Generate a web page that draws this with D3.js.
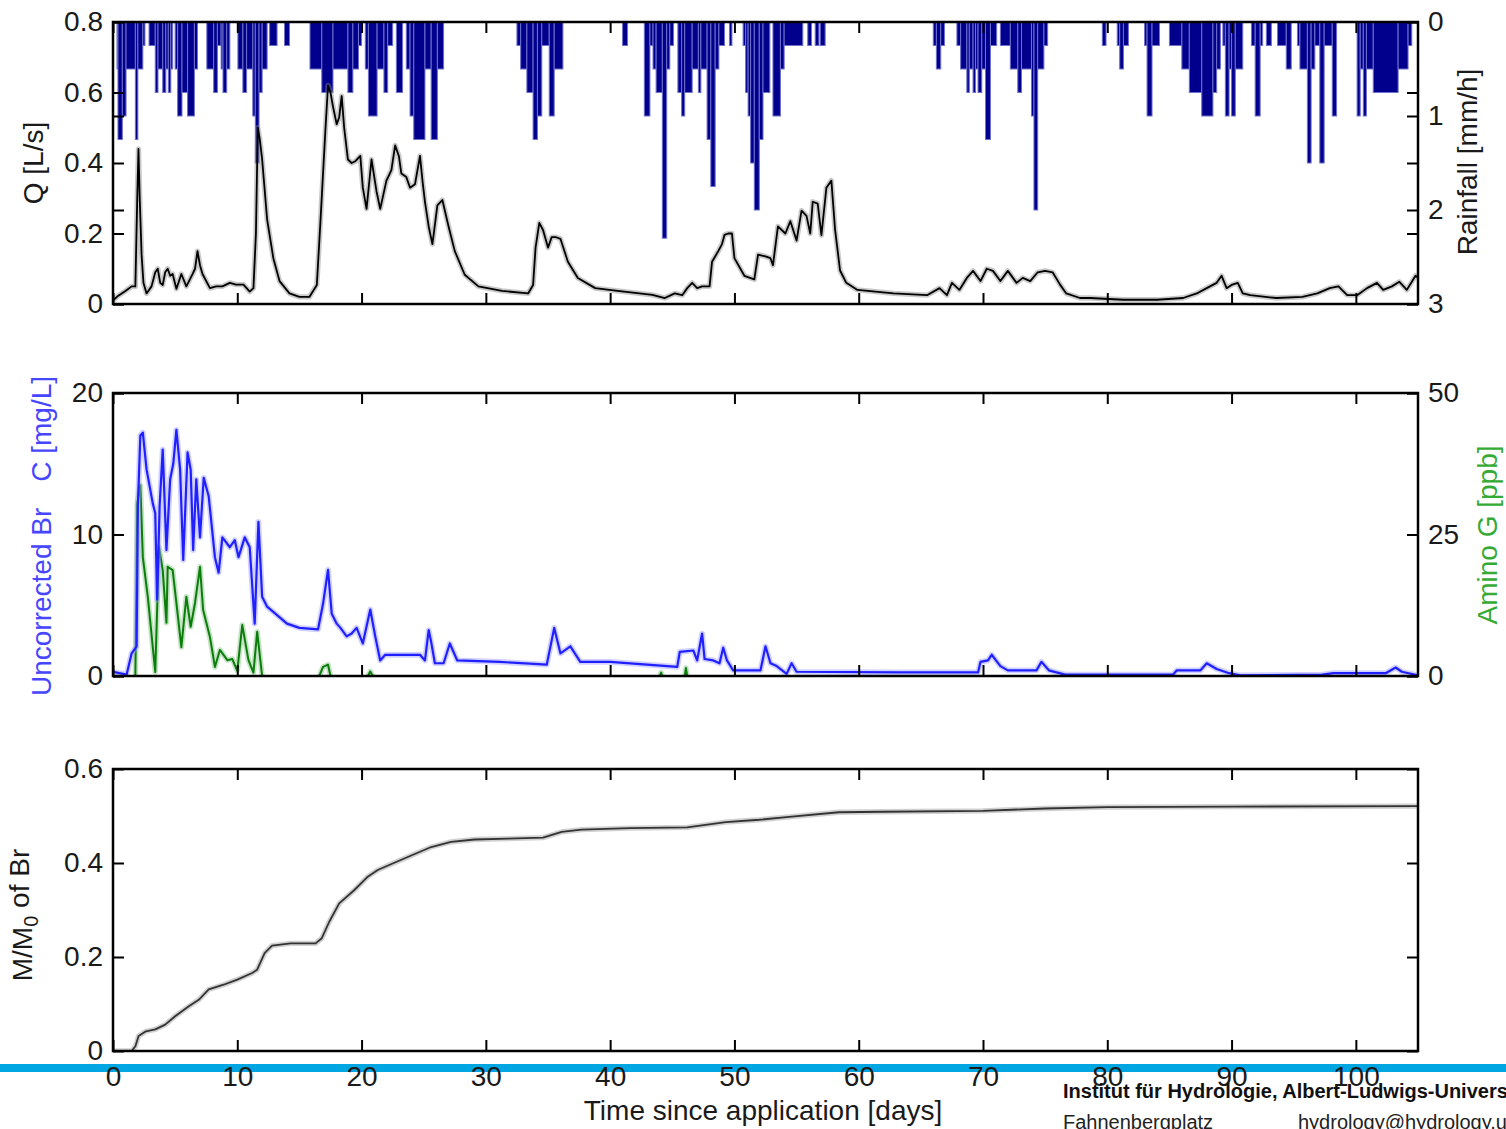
<!DOCTYPE html>
<html>
<head>
<meta charset="utf-8">
<script src="https://cdn.jsdelivr.net/npm/d3@7"></script>
<style>
  html, body { margin: 0; padding: 0; background: #fff; }
  svg { display: block; font-family: "Liberation Sans", Arial, Helvetica, sans-serif; }
</style>
</head>
<body>
<svg id="chart" width="1506" height="1129"></svg>
<script>
// ---------------- data ----------------
// time axis (days since tracer application)
const dayTicks = [0, 10, 20, 30, 40, 50, 60, 70, 80, 90, 100];
const dayDomain = [0, 105];

// tick labels of the value axes
const qTicks = [0, 0.2, 0.4, 0.6, 0.8];
const rainTicks = [0, 1, 2, 3];
const brTicks = [0, 10, 20];
const aminoTicks = [0, 25, 50];
const massTicks = [0, 0.2, 0.4, 0.6];

// hyetograph: [start day, end day, intensity mm/h]
const rainfall = [
  [0.32,0.40,0.5],[0.40,0.75,1.25],[0.75,1.05,1.0],[1.05,1.80,0.5],[1.80,2.00,1.25],[2.00,2.40,0.5],[2.40,2.57,0.25],
  [2.90,3.40,0.25],[3.40,3.62,0.75],[3.62,4.00,0.5],[4.00,4.25,0.75],[4.25,4.45,0.5],[4.45,4.65,0.75],[4.65,4.80,0.5],
  [5.00,5.20,0.5],[5.20,5.55,1.0],[5.55,6.00,0.75],[6.00,6.55,1.0],[6.55,6.80,0.5],
  [7.55,8.10,0.5],[8.10,8.40,0.75],[8.40,8.70,0.25],[8.70,8.85,0.5],[8.85,9.15,0.75],[9.15,9.40,0.5],
  [10.05,10.45,0.5],[10.45,10.75,0.75],[10.75,11.25,0.5],[11.25,11.45,1.0],[11.45,11.75,1.5],[11.75,12.0,0.75],[12.0,12.4,0.5],
  [12.6,13.2,0.25],[13.8,14.2,0.25],
  [15.85,16.8,0.5],[16.8,17.7,0.75],[17.7,18.9,0.5],[18.9,19.3,0.75],[19.3,19.75,0.5],[19.75,20.0,0.25],
  [20.3,20.55,0.5],[20.55,21.25,1.0],[21.25,21.8,0.5],[21.8,22.1,0.75],[22.1,22.5,0.25],
  [22.8,23.3,0.75],
  [23.6,23.9,0.5],[23.9,24.2,1.0],[24.2,25.1,1.25],[25.1,25.6,0.5],[25.6,26.1,1.25],[26.1,26.6,0.5],
  [32.5,32.8,0.25],[32.8,33.3,0.5],[33.3,33.8,0.75],[33.8,34.15,1.25],[34.15,34.5,1.0],[34.5,35.1,0.25],[35.1,35.5,1.0],[35.5,36.2,0.5],
  [41.0,41.4,0.25],
  [42.75,43.2,1.0],[43.2,43.45,0.25],[43.45,43.7,0.5],[43.7,44.2,0.75],[44.2,44.55,2.3],[44.55,44.8,0.5],[44.8,45.1,0.25],
  [45.45,45.75,0.75],[45.75,46.0,1.0],[46.0,46.6,0.75],[46.6,47.1,0.5],[47.1,47.3,0.75],[47.3,47.8,0.5],[47.8,48.1,1.25],[48.1,48.45,1.75],[48.45,48.75,0.5],[48.75,49.2,0.25],
  [49.6,49.8,0.25],
  [50.7,50.9,0.25],[50.9,51.1,0.75],[51.1,51.3,1.0],[51.3,51.6,1.5],[51.6,52.0,2.0],[52.0,52.3,1.25],[52.3,52.85,0.75],
  [53.1,53.7,1.0],[53.7,54.0,0.5],[54.0,55.5,0.25],
  [55.9,56.2,0.25],[56.5,56.8,0.25],[56.9,57.3,0.25],
  [66.0,66.25,0.25],[66.25,66.6,0.5],[66.6,66.9,0.25],
  [67.9,68.2,0.25],[68.2,68.7,0.5],[68.7,68.9,0.75],[68.9,69.2,0.5],[69.2,69.4,0.75],[69.4,69.6,0.5],[69.6,69.9,0.75],[69.9,70.2,0.5],[70.2,70.6,1.25],[70.6,71.1,0.25],
  [71.4,72.2,0.25],[72.2,72.8,0.5],[72.8,73.1,0.75],[73.1,73.9,0.5],[73.9,74.1,1.0],[74.1,74.4,2.0],[74.4,74.9,0.5],[74.9,75.2,0.25],
  [79.6,79.9,0.25],
  [80.8,81.0,0.25],[81.0,81.3,0.5],[81.3,81.7,0.25],
  [83.0,83.2,0.25],[83.2,83.6,1.0],[83.6,84.2,0.25],
  [85.0,86.0,0.25],[86.0,86.6,0.5],[86.6,87.6,0.75],[87.6,88.5,1.0],[88.5,88.8,0.75],[88.8,89.1,0.5],
  [89.3,89.5,0.25],[89.5,89.8,1.0],[89.8,90.0,0.5],[90.0,90.3,1.0],[90.3,90.9,0.5],
  [91.6,91.9,0.25],[91.9,92.3,1.0],[92.3,92.5,0.25],
  [92.8,93.2,0.25],
  [93.7,94.4,0.25],[94.4,94.8,0.5],
  [95.3,95.5,0.25],[95.5,96.1,0.5],[96.1,96.4,1.5],[96.4,96.7,0.5],[96.7,97.1,0.25],[97.1,97.45,1.5],[97.45,98.1,0.25],[98.1,98.45,1.0],
  [100.1,100.35,1.0],[100.35,100.6,0.5],[100.6,100.85,1.0],[100.85,101.4,0.5],[101.4,103.4,0.75],[103.4,104.2,0.5],[104.2,104.5,0.25]
];

// discharge Q [L/s]: [day, Q]
const discharge = [
  [0,0.01],[0.4,0.023],[1.0,0.037],[1.5,0.05],[1.8,0.05],[1.95,0.3],[2.05,0.44],[2.15,0.3],[2.3,0.14],[2.45,0.06],[2.7,0.03],
  [3.1,0.05],[3.4,0.09],[3.6,0.10],[3.8,0.06],[4.0,0.054],[4.2,0.09],[4.4,0.10],[4.6,0.08],[4.8,0.085],[5.1,0.043],[5.5,0.085],
  [5.9,0.05],[6.4,0.085],[6.6,0.1],[6.8,0.15],[7.0,0.11],[7.2,0.085],[7.8,0.045],[8.3,0.05],[8.8,0.05],[9.4,0.06],[9.9,0.055],
  [10.5,0.055],[11.0,0.035],[11.3,0.045],[11.5,0.2],[11.65,0.5],[11.8,0.47],[12.0,0.41],[12.4,0.24],[12.9,0.13],[13.4,0.065],
  [14.2,0.03],[15.0,0.02],[15.8,0.02],[16.4,0.054],[16.7,0.24],[17.1,0.5],[17.3,0.62],[17.5,0.6],[17.7,0.56],[18.0,0.51],
  [18.2,0.53],[18.4,0.59],[18.6,0.5],[18.9,0.41],[19.2,0.4],[19.5,0.405],[19.9,0.42],[20.1,0.33],[20.4,0.27],[20.8,0.41],
  [21.2,0.32],[21.5,0.27],[22.0,0.35],[22.4,0.38],[22.7,0.45],[23.0,0.42],[23.2,0.37],[23.6,0.36],[23.9,0.33],[24.3,0.34],
  [24.7,0.42],[24.9,0.35],[25.1,0.29],[25.4,0.22],[25.7,0.17],[26.1,0.28],[26.5,0.295],[27.0,0.22],[27.5,0.15],[28.3,0.083],
  [29.4,0.05],[31.3,0.037],[33.4,0.03],[33.8,0.054],[34.0,0.16],[34.3,0.23],[34.6,0.21],[35.0,0.16],[35.3,0.19],[35.6,0.19],
  [36.0,0.185],[36.6,0.12],[37.4,0.074],[38.8,0.045],[40.6,0.037],[43.4,0.026],[44.4,0.017],[45.2,0.03],[45.8,0.025],
  [46.2,0.045],[46.6,0.06],[47.0,0.045],[47.4,0.05],[48.0,0.05],[48.2,0.12],[48.7,0.15],[49.0,0.17],[49.2,0.196],[49.5,0.2],
  [49.8,0.2],[50.0,0.13],[50.8,0.08],[51.6,0.07],[51.9,0.14],[52.5,0.135],[52.9,0.13],[53.1,0.11],[53.5,0.22],[54.1,0.20],
  [54.5,0.235],[55.0,0.18],[55.4,0.265],[55.8,0.25],[56.1,0.2],[56.3,0.29],[56.7,0.285],[57.0,0.195],[57.4,0.33],[57.8,0.35],
  [58.1,0.21],[58.5,0.095],[59.0,0.06],[59.9,0.04],[62.8,0.03],[65.5,0.025],[66.5,0.045],[67.1,0.025],[67.5,0.06],[68.1,0.04],
  [68.7,0.074],[69.2,0.094],[69.8,0.065],[70.3,0.10],[70.8,0.094],[71.4,0.065],[72.0,0.094],[72.7,0.06],[73.2,0.074],
  [73.8,0.065],[74.4,0.09],[75.0,0.094],[75.6,0.09],[76.2,0.055],[76.7,0.03],[77.8,0.017],[78.6,0.017],[81.3,0.012],
  [84.0,0.012],[86.1,0.017],[87.2,0.03],[88.0,0.045],[88.8,0.06],[89.2,0.08],[89.6,0.045],[90.0,0.054],[90.5,0.06],
  [90.9,0.03],[91.5,0.025],[93.6,0.017],[95.7,0.02],[96.9,0.03],[97.9,0.045],[98.6,0.05],[99.3,0.025],[100.1,0.025],
  [100.9,0.045],[101.7,0.06],[102.2,0.04],[102.9,0.05],[103.5,0.063],[104.1,0.04],[104.8,0.08],[105,0.075]
];

// uncorrected bromide concentration [mg/L]: [day, C]
const bromide = [
  [0,0.3],[0.5,0.2],[1.1,0.1],[1.5,1.6],[1.9,2.1],[2.0,12],[2.2,17.0],[2.4,17.2],[2.7,14.6],[3.2,12.2],[3.4,11.5],[3.55,5.4],
  [3.75,12],[4.0,16.0],[4.3,8.9],[4.6,13.9],[4.85,15],[5.1,17.4],[5.4,14.6],[5.65,8.2],[6.0,15.8],[6.25,14.6],[6.45,8.9],
  [6.7,13.9],[7.0,9.8],[7.3,14.0],[7.7,12.7],[8.2,8.4],[8.5,7.3],[8.8,9.8],[9.4,9.1],[9.8,9.6],[10.1,8.4],[10.6,9.8],
  [11.0,9.1],[11.4,3.7],[11.7,10.9],[12.0,5.6],[12.4,4.9],[13.2,4.3],[14.0,3.7],[15.0,3.4],[16.5,3.3],[16.9,5.1],[17.3,7.5],
  [17.6,4.4],[18.0,3.7],[18.3,3.4],[18.8,2.8],[19.2,3.0],[19.6,3.4],[20.1,2.3],[20.7,4.7],[21.1,2.8],[21.5,1.1],[21.9,1.5],
  [24.7,1.5],[25.1,1.1],[25.4,3.25],[25.6,2.4],[25.9,0.9],[26.6,0.9],[27.1,2.3],[27.7,1.1],[31.1,1.0],[34.9,0.8],[35.5,3.4],
  [36.0,1.6],[36.8,2.1],[37.6,1.0],[40.0,1.0],[45.4,0.65],[45.6,1.7],[46.7,1.8],[47.0,1.1],[47.4,3.0],[47.6,1.2],[48.3,1.1],
  [48.8,0.9],[49.1,2.0],[49.4,1.1],[49.9,0.4],[52.1,0.4],[52.5,2.1],[52.9,0.9],[53.4,0.7],[54.2,0.15],[54.6,0.9],[55.0,0.3],
  [63.3,0.25],[69.6,0.25],[69.8,1.0],[70.4,1.1],[70.7,1.5],[71.4,0.7],[72.0,0.4],[74.3,0.4],[74.7,1.0],[75.3,0.4],[76.6,0.1],
  [85.3,0.1],[85.6,0.4],[87.5,0.4],[88.0,0.9],[88.8,0.5],[89.8,0.2],[90.7,0.05],[97.3,0.1],[98.2,0.2],[102.4,0.2],[103.2,0.6],
  [103.7,0.3],[105,0.05]
];

// Amino G acid [ppb]: [day, value]; null marks a gap without samples
const aminoG = [
  [1.8,0],[1.95,30.5],[2.2,33.7],[2.4,21],[2.8,14],[3.4,0.7],[3.7,22.8],[4.0,18.7],[4.3,9.4],[4.4,19.3],[4.8,18.7],
  [5.1,12.9],[5.5,5.1],[5.9,14],[6.25,8.7],[6.6,12.9],[7.0,19.3],[7.25,11.7],[7.8,6.9],[8.2,1.6],[8.6,4.6],[9.2,2.8],
  [9.6,3.0],[10.0,0.9],[10.4,9.0],[10.9,2.8],[11.3,0.6],[11.6,7.8],[12.0,0],
  null,
  [16.6,0],[16.9,1.6],[17.3,2.0],[17.5,0],
  null,
  [20.5,0],[20.7,0.8],[20.9,0],
  null,
  [44.0,0],[44.1,0.6],[44.2,0],
  null,
  [46.0,0],[46.1,1.4],[46.2,0]
];

// recovered bromide mass fraction M/M0: [day, fraction]
const massRecovery = [
  [0,0],[1.5,0],[1.8,0.01],[2.06,0.032],[2.65,0.042],[3.4,0.046],[4.2,0.056],[5.0,0.074],[6.1,0.095],[6.9,0.109],
  [7.7,0.131],[8.9,0.141],[10.0,0.152],[11.2,0.166],[11.6,0.173],[12.2,0.208],[12.8,0.224],[14.3,0.229],[16.3,0.229],
  [16.8,0.24],[17.4,0.275],[18.2,0.314],[19.4,0.342],[20.5,0.371],[21.3,0.385],[22.5,0.399],[24.0,0.416],[25.6,0.434],
  [27.2,0.445],[29.1,0.45],[31.8,0.452],[34.6,0.454],[36.1,0.466],[37.7,0.471],[41.6,0.474],[46.2,0.476],[49.3,0.487],
  [52.0,0.492],[54.4,0.498],[58.4,0.508],[62.0,0.509],[70.0,0.511],[75.0,0.516],[80.0,0.519],[90.0,0.52],[105,0.521]
];

// ---------------- layout ----------------
const svg = d3.select("#chart");
const FONT = 28;
const plotLeft = 113, plotRight = 1418;
const topPanel = { y0: 22, y1: 304 };
const midPanel = { y0: 393, y1: 676 };
const botPanel = { y0: 769, y1: 1051 };
const TICK = 11;

const x = d3.scaleLinear().domain(dayDomain).range([plotLeft, plotRight]);

const yQ = d3.scaleLinear().domain([0, 0.8]).range([topPanel.y1, topPanel.y0]);
const yRain = d3.scaleLinear().domain([0, 3]).range([topPanel.y0, topPanel.y1]);
const yBr = d3.scaleLinear().domain([0, 20]).range([midPanel.y1, midPanel.y0]);
const yAmino = d3.scaleLinear().domain([0, 50]).range([midPanel.y1, midPanel.y0]);
const yMass = d3.scaleLinear().domain([0, 0.6]).range([botPanel.y1, botPanel.y0]);

const fmt = d3.format("~g");

// footer band behind the bottom axis labels
svg.append("rect")
  .attr("x", 0).attr("y", 1064).attr("width", 1506).attr("height", 8)
  .attr("fill", "#00a6e2");

function styleAxis(g) {
  g.select(".domain").remove();
  g.selectAll(".tick line").attr("stroke", "#000").attr("stroke-width", 2);
  g.selectAll(".tick text")
    .attr("fill", "#1a1a1a")
    .attr("font-size", FONT)
    .attr("font-family", "'Liberation Sans', Arial, sans-serif");
}

function clipFor(id, p) {
  svg.append("clipPath").attr("id", id)
    .append("rect")
    .attr("x", plotLeft).attr("y", p.y0)
    .attr("width", plotRight - plotLeft).attr("height", p.y1 - p.y0);
  return `url(#${id})`;
}

// ticks pointing inward on all four sides; labels only where requested
function frame(p, yLeft, leftTicks, yRight, rightTicks, showDayLabels) {
  const g = svg.append("g");
  g.append("g").attr("transform", `translate(0,${p.y1})`)
    .call(d3.axisBottom(x).tickValues(dayTicks).tickSize(-TICK).tickPadding(15)
      .tickFormat(showDayLabels ? fmt : ""))
    .call(styleAxis);
  g.append("g").attr("transform", `translate(0,${p.y0})`)
    .call(d3.axisTop(x).tickValues(dayTicks).tickSize(-TICK).tickFormat(""))
    .call(styleAxis);
  // left axis with labels, right axis mirrored ticks
  g.append("g").attr("transform", `translate(${plotLeft},0)`)
    .call(d3.axisLeft(yLeft).tickValues(leftTicks).tickSize(-TICK).tickPadding(10).tickFormat(fmt))
    .call(styleAxis);
  g.append("g").attr("transform", `translate(${plotRight},0)`)
    .call(d3.axisRight(yLeft).tickValues(leftTicks).tickSize(-TICK).tickFormat(""))
    .call(styleAxis);
  if (yRight) {
    g.append("g").attr("transform", `translate(${plotRight},0)`)
      .call(d3.axisRight(yRight).tickValues(rightTicks).tickSize(-TICK).tickPadding(10).tickFormat(fmt))
      .call(styleAxis);
    g.append("g").attr("transform", `translate(${plotLeft},0)`)
      .call(d3.axisLeft(yRight).tickValues(rightTicks).tickSize(-TICK).tickFormat(""))
      .call(styleAxis);
  }
  g.append("rect")
    .attr("x", plotLeft).attr("y", p.y0)
    .attr("width", plotRight - plotLeft).attr("height", p.y1 - p.y0)
    .attr("fill", "none").attr("stroke", "#000").attr("stroke-width", 2.5);
}

// line with a soft grey halo underneath
function haloLine(parent, data, yScale, color, width, halo) {
  const line = d3.line()
    .defined(d => d !== null)
    .x(d => x(d[0]))
    .y(d => yScale(d[1]));
  parent.append("path").datum(data)
    .attr("d", line).attr("fill", "none")
    .attr("stroke", halo).attr("stroke-width", width + 3.5)
    .attr("stroke-linejoin", "round").attr("opacity", 0.45);
  parent.append("path").datum(data)
    .attr("d", line).attr("fill", "none")
    .attr("stroke", color).attr("stroke-width", width)
    .attr("stroke-linejoin", "round");
}

function verticalLabel(text, cx, cy, color) {
  return svg.append("text")
    .attr("transform", `translate(${cx},${cy}) rotate(-90)`)
    .attr("text-anchor", "middle")
    .attr("dy", "0.35em")
    .attr("font-size", FONT)
    .attr("fill", color)
    .text(text);
}

// ---------------- panel 1: discharge and rainfall ----------------
const g1 = svg.append("g").attr("clip-path", clipFor("clipTop", topPanel));
g1.selectAll("rect.rain").data(rainfall).join("rect")
  .attr("class", "rain")
  .attr("x", d => x(d[0]))
  .attr("width", d => x(d[1]) - x(d[0]))
  .attr("y", yRain(0))
  .attr("height", d => yRain(d[2]) - yRain(0))
  .attr("fill", "#00008c")
  .attr("stroke", "#6f6fcc")
  .attr("stroke-width", 1);
haloLine(g1, discharge, yQ, "#000", 1.8, "#888");
frame(topPanel, yQ, qTicks, yRain, rainTicks, false);
verticalLabel("Q [L/s]", 33, 163, "#1a1a1a");
verticalLabel("Rainfall [mm/h]", 1467, 162, "#1a1a1a");

// ---------------- panel 2: tracer concentrations ----------------
const g2 = svg.append("g").attr("clip-path", clipFor("clipMid", midPanel));
haloLine(g2, aminoG, yAmino, "#0a7d0a", 2, "#7fbf7f");
haloLine(g2, bromide, yBr, "#1f1fff", 2.2, "#9a9aff");
frame(midPanel, yBr, brTicks, yAmino, aminoTicks, false);

const brLabel = verticalLabel("", 41, 536, "#4646ff");
brLabel.append("tspan").text("Uncorrected Br");
brLabel.append("tspan").attr("dx", 26).text("C [mg/L]");
verticalLabel("Amino G [ppb]", 1487, 535, "#35aa35");

// ---------------- panel 3: mass recovery ----------------
const g3 = svg.append("g").attr("clip-path", clipFor("clipBot", botPanel));
haloLine(g3, massRecovery, yMass, "#333", 1.8, "#999");
frame(botPanel, yMass, massTicks, null, null, true);

const mLabel = verticalLabel("", 22, 915, "#1a1a1a");
mLabel.append("tspan").text("M/M");
mLabel.append("tspan").attr("font-size", 20).attr("dy", "0.3em").text("0");
mLabel.append("tspan").attr("dy", "-0.3em").text(" of Br");

svg.append("text")
  .attr("x", 763).attr("y", 1120)
  .attr("text-anchor", "middle")
  .attr("font-size", FONT)
  .attr("fill", "#1a1a1a")
  .text("Time since application [days]");

// ---------------- footer ----------------
svg.append("text")
  .attr("x", 1063).attr("y", 1098)
  .attr("font-size", 20).attr("font-weight", "bold").attr("fill", "#111")
  .text("Institut für Hydrologie, Albert-Ludwigs-Universität Freiburg");
svg.append("text")
  .attr("x", 1063).attr("y", 1129)
  .attr("font-size", 20).attr("fill", "#222")
  .text("Fahnenbergplatz");
svg.append("text")
  .attr("x", 1298).attr("y", 1129)
  .attr("font-size", 20).attr("fill", "#222")
  .text("hydrology@hydrology.uni-freiburg.de");
</script>
</body>
</html>
